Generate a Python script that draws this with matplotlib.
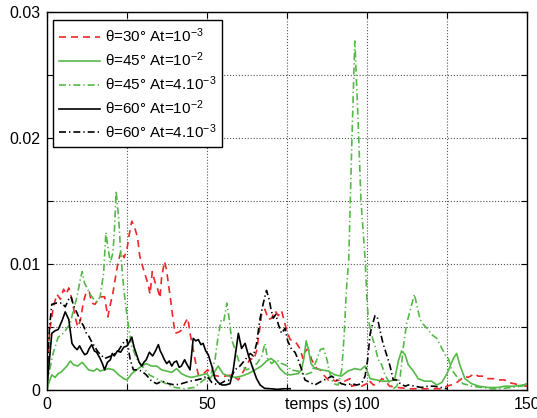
import matplotlib as mpl
mpl.use('Agg')
import matplotlib.pyplot as plt
import numpy as np

plt.rcParams['font.family'] = ['Liberation Sans', 'DejaVu Sans']
plt.rcParams['mathtext.fontset'] = 'custom'
plt.rcParams['mathtext.rm'] = 'Liberation Sans'
plt.rcParams['mathtext.it'] = 'Liberation Sans:italic'
plt.rcParams['mathtext.bf'] = 'Liberation Sans:bold'

# ---- données ----
t_r30 = [0, 1, 2, 3.1, 4.2, 5.2, 6, 6.8, 7.8, 8.8, 9.6, 10.4, 11.4, 12.3, 13.2, 14, 15, 16, 17, 18,
         19, 19.8, 20.6, 21.3, 22.2, 23.1, 24.1, 25, 25.6, 26.5, 27.5, 28.3, 29, 30, 31.1, 31.6, 32.2,
         32.9, 33.7, 34.6, 35.3, 35.8, 36.7, 37.3, 37.9, 38.6, 39.2, 40, 41.2, 42.3, 43.1, 44, 44.7,
         45.7, 46.5, 47.3, 48.9, 50.2, 51.5, 53.5, 55.6, 57.7, 59.8, 61.9, 63.5, 64.6, 65.5, 66.4,
         67.1, 68.1, 69.2, 70.2, 71.2, 72.3, 73.3, 74.4, 75.2, 76, 77, 78, 79, 80, 81, 81.7, 82.7,
         84.3, 85.4, 86.4, 87.9, 89, 90, 91.5, 93, 94.7, 95.2, 96.8, 98.3, 99.9, 100.4, 102, 103.5,
         104.6, 105.6, 107, 109.6, 113, 116, 119.4, 123, 125, 127.5, 128.6, 130.6, 131.6, 133.7,
         134.7, 136.4, 137.4, 139.5, 141, 143, 144, 146, 147.6, 150]
v_r30 = [0.002, 0.005, 0.0066, 0.0076, 0.0072, 0.008, 0.0076, 0.0081, 0.0072, 0.0058, 0.005, 0.0055,
         0.007, 0.0078, 0.0078, 0.0069, 0.0068, 0.0072, 0.0074, 0.0074, 0.0058, 0.0068, 0.0077, 0.0088,
         0.0101, 0.011, 0.0105, 0.0112, 0.0122, 0.0134, 0.0128, 0.0121, 0.0106, 0.0097, 0.0088, 0.0084,
         0.0076, 0.0094, 0.0086, 0.008, 0.0073, 0.0089, 0.0102, 0.0096, 0.0085, 0.0072, 0.006, 0.0045,
         0.0046, 0.0048, 0.0053, 0.0057, 0.0045, 0.0032, 0.0021, 0.0012, 0.0013, 0.0016, 0.0012,
         0.0011, 0.0011, 0.0012, 0.0008, 0.0017, 0.0025, 0.0024, 0.0031, 0.0047, 0.0061, 0.0064,
         0.0056, 0.0057, 0.0063, 0.0059, 0.0063, 0.0052, 0.0045, 0.004, 0.0039, 0.0037, 0.0033,
         0.0025, 0.0032, 0.0032, 0.0024, 0.0017, 0.0016, 0.0012, 0.0008, 0.0009, 0.0007, 0.0008,
         0.0007, 0.0009, 0.0003, 0.0004, 0.0003, 0.0005, 0.0008, 0.0004, 0.0005, 0.0009, 0.0008,
         0.0003, 0.0002, 0.0001, 0.0001, 0.0001, 0.0001, 0.0003, 0.0005, 0.0007, 0.0011, 0.001,
         0.0013, 0.0011, 0.0011, 0.0009, 0.0009, 0.0008, 0.0008, 0.0006, 0.0005, 0.0004, 0.0003]

t_g45a = [0, 0.5, 1.5, 2.5, 3.5, 4.3, 5.1, 6.2, 7.3, 8.3, 9.6, 11, 12, 13, 14.6, 15.6, 16.6, 18, 19.2,
          20.8, 22.4, 24, 25, 26.5, 28, 29.6, 31, 32.7, 34.3, 35.8, 37.4, 39, 40.5, 42, 43.6, 45.2,
          46.8, 48.4, 50, 51, 52.5, 53.5, 55, 56.7, 58.8, 60.8, 62.9, 65, 67, 68.6, 70, 71.5, 72.8,
          74.4, 76, 78.5, 79.5, 80.2, 81, 81.7, 82.5, 83.7, 85.8, 87.9, 90, 92, 94, 96.2, 98, 99.4,
          101, 103, 105, 107, 108.6, 109.8, 110.8, 111.9, 112.9, 114.5, 116, 118, 120.2, 121.8, 123.4,
          125, 126, 127, 128, 129, 130.6, 132.7, 135, 137.9, 141, 143, 146, 148.9, 150]
v_g45a = [0.0, 0.0005, 0.0012, 0.001, 0.0013, 0.0014, 0.0016, 0.0019, 0.0023, 0.002, 0.0019, 0.0022,
          0.0019, 0.0016, 0.0015, 0.0017, 0.0015, 0.0016, 0.0017, 0.0016, 0.0012, 0.0009, 0.0008,
          0.0013, 0.0016, 0.0019, 0.0021, 0.0019, 0.0019, 0.0016, 0.0015, 0.0014, 0.0017, 0.0013,
          0.0011, 0.001, 0.0011, 0.0012, 0.0013, 0.0009, 0.0015, 0.0019, 0.0013, 0.0011, 0.001, 0.0011,
          0.0013, 0.0016, 0.0019, 0.0023, 0.0025, 0.0022, 0.0017, 0.0013, 0.0012, 0.0013, 0.0016,
          0.0024, 0.0039, 0.0032, 0.0021, 0.0017, 0.0016, 0.0015, 0.0012, 0.0011, 0.0015, 0.0017,
          0.0016, 0.0019, 0.0009, 0.0008, 0.0007, 0.0007, 0.0008, 0.0023, 0.0031, 0.0028, 0.002,
          0.0015, 0.0009, 0.0007, 0.0007, 0.0004, 0.0006, 0.0013, 0.0019, 0.0025, 0.0029, 0.002,
          0.0009, 0.0005, 0.0003, 0.0002, 0.0002, 0.0003, 0.0003, 0.0004, 0.0005]

t_g45b = [0, 1, 2, 3.5, 4.7, 5.7, 7.3, 8.3, 9.4, 10.4, 11, 11.7, 12.5, 13.5, 14.6, 15.6, 16.6, 17.7,
          18.4, 19, 19.8, 20.6, 21.1, 21.6, 22.4, 23.1, 24, 25, 25.8, 26.5, 28, 30, 32, 35, 38, 40,
          43, 46, 48, 50, 51.3, 52.5, 53.5, 54.4, 55.2, 56.2, 56.9, 57.7, 58.8, 59.8, 60.8, 62.4,
          64, 65.6, 67.1, 68.1, 68.9, 70.2, 71.7, 73.3, 75.4, 76, 78.5, 80.6, 82.7, 84.3, 85.4, 86.4,
          87.5, 88.5, 89.5, 91, 92.1, 92.9, 93.5, 94.3, 95.3, 96.2, 97.2, 98.1, 99.4, 100, 100.4,
          101.5, 102.5, 103.5, 104.6, 105.6, 107.2, 108.2, 109.3, 110.4, 111.4, 112.4, 113.5, 114.8,
          115.6, 116.6, 117.6, 119.2, 120.2, 121.8, 122.8, 124.4, 125.4, 126.5, 128.5, 130, 131.5,
          132.7, 136, 139, 142, 145, 148, 150]
v_g45b = [0.0005, 0.0018, 0.003, 0.0042, 0.0044, 0.0047, 0.0053, 0.0064, 0.0074, 0.0088, 0.0094,
          0.0085, 0.0081, 0.0076, 0.0072, 0.007, 0.0074, 0.0093, 0.0125, 0.0114, 0.0101, 0.0109,
          0.0128, 0.0158, 0.0136, 0.0106, 0.008, 0.0059, 0.0045, 0.0035, 0.0025, 0.0018, 0.0012,
          0.0008, 0.0004, 0.0002, 0.0001, 0.0002, 0.0006, 0.001, 0.0013, 0.0024, 0.0043, 0.0055,
          0.0054, 0.0069, 0.0057, 0.004, 0.0032, 0.0024, 0.0019, 0.0016, 0.0018, 0.0021, 0.0027,
          0.0037, 0.0025, 0.0021, 0.0024, 0.0021, 0.0019, 0.0016, 0.0015, 0.0012, 0.0014, 0.0024,
          0.0032, 0.0033, 0.0024, 0.0012, 0.0005, 0.0004, 0.0016, 0.0045, 0.0077, 0.0104, 0.0200,
          0.0277, 0.0215, 0.0151, 0.0104, 0.0072, 0.0056, 0.0043, 0.0035, 0.0024, 0.002, 0.0012,
          0.0005, 0.0001, 0.0003, 0.0011, 0.0035, 0.0053, 0.0063, 0.0076, 0.0067, 0.0056, 0.0052,
          0.0048, 0.0044, 0.0041, 0.0036, 0.0028, 0.0025, 0.0016, 0.0009, 0.0005, 0.0004, 0.0003,
          0.0002, 0.0001, 0.0001, 0.0002, 0.0003, 0.0004]

t_k60a = [0, 0.8, 1.5, 2.5, 3.5, 4.7, 5.7, 6.8, 7.8, 8.6, 9.4, 10.2, 11, 11.8, 12.5, 13.2, 14, 14.8,
          15.5, 16.6, 17.3, 18, 18.9, 19.8, 20.4, 21, 22, 23, 24, 25, 25.7, 26.5, 27.2, 28, 28.8,
          29.6, 30.3, 31, 32, 33, 33.9, 34.8, 35.4, 36, 36.7, 37.4, 38.2, 39, 39.7, 40.5, 41.3, 42,
          43, 43.8, 44.7, 45.7, 46.5, 47.3, 48.1, 48.8, 49.6, 50.4, 51.5, 52.5, 53.5, 54.6, 55.8,
          57.2, 58.2, 59.8, 60.8, 61.9, 63, 64.5, 65.5, 66.6, 68, 70, 72, 74, 76]
v_k60a = [0.0003, 0.0025, 0.0045, 0.0047, 0.0048, 0.0055, 0.0062, 0.0056, 0.0037, 0.0034, 0.0032,
          0.0035, 0.0031, 0.0028, 0.0029, 0.0033, 0.0036, 0.0031, 0.003, 0.0025, 0.0021, 0.0016,
          0.0022, 0.0024, 0.0029, 0.0027, 0.0031, 0.003, 0.0034, 0.0035, 0.0038, 0.0042, 0.0034,
          0.0028, 0.0022, 0.0019, 0.0022, 0.0024, 0.003, 0.0027, 0.0031, 0.0036, 0.0031, 0.0028,
          0.0024, 0.0021, 0.0023, 0.0019, 0.0022, 0.0023, 0.0018, 0.0019, 0.0024, 0.002, 0.0016,
          0.0041, 0.0039, 0.004, 0.0036, 0.0037, 0.0031, 0.0028, 0.0019, 0.0009, 0.0006, 0.0004,
          0.0004, 0.0005, 0.0016, 0.0045, 0.0033, 0.0037, 0.0027, 0.0016, 0.0009, 0.0004, 0.00013,
          0.0001, 0.00005, 0.0001, 0.0001]

t_k60b = [0, 0.8, 1.5, 3, 4.7, 5.7, 6.8, 7.5, 8.3, 9.4, 10.4, 11.4, 12.3, 13, 14, 16, 18, 20, 22, 24,
          25, 26, 27, 28.5, 29.6, 31, 32.7, 34.3, 36, 38, 40, 42, 44.7, 46.8, 48.4, 50, 51.5, 53.5,
          55.5, 57.2, 58.7, 60.3, 61.9, 63.5, 64.5, 65.5, 66.6, 67.6, 68.6, 69.4, 70, 70.7, 71.5,
          72.3, 73.3, 74.4, 75.2, 76.5, 77.5, 78.5, 79.6, 80.6, 82.2, 83.7, 85.8, 87.5, 89, 90.5,
          92, 93.5, 95.2, 96.8, 98.3, 99.4, 100.2, 101, 101.5, 102.5, 103.2, 104, 105, 106, 107.2,
          108.2, 109.3, 110.4, 112, 112.9, 115, 117, 119, 121, 123, 125]
v_k60b = [0.001, 0.005, 0.0068, 0.0069, 0.0069, 0.0066, 0.0072, 0.0074, 0.0067, 0.0061, 0.0055,
          0.0051, 0.0045, 0.0043, 0.0038, 0.003, 0.0025, 0.0027, 0.003, 0.0038, 0.004, 0.0024,
          0.0016, 0.0016, 0.0015, 0.0012, 0.0007, 0.0005, 0.0007, 0.0005, 0.0004, 0.0005, 0.0007,
          0.0008, 0.0009, 0.0011, 0.0006, 0.0004, 0.0007, 0.0008, 0.0016, 0.0019, 0.0024, 0.0029,
          0.0027, 0.0037, 0.0057, 0.0069, 0.0079, 0.0072, 0.0064, 0.0057, 0.006, 0.0052, 0.0045,
          0.0049, 0.0039, 0.0032, 0.003, 0.0024, 0.0016, 0.0008, 0.0006, 0.0004, 0.0007, 0.0009,
          0.0011, 0.0008, 0.0005, 0.0004, 0.0005, 0.0004, 0.0005, 0.0011, 0.0024, 0.0045, 0.005,
          0.0059, 0.0058, 0.0048, 0.0037, 0.0029, 0.0019, 0.0008, 0.0008, 0.0005, 0.0003, 0.0004,
          0.0003, 0.0002, 0.0003, 0.0003, 0.0002, 0.0001]

labels = [r'θ=30° At=10$^{-3}$', r'θ=45° At=10$^{-2}$', r'θ=45° At=4.10$^{-3}$',
          r'θ=60° At=10$^{-2}$', r'θ=60° At=4.10$^{-3}$']

RED = '#f0262a'
GREEN = '#55b947'
LW = 1.2
DASH = (4.2, 3.0)
DASHDOT = (4.2, 1.8, 0.8, 1.8)

fig = plt.figure(figsize=(5.37, 4.18), dpi=100)
ax = fig.add_axes([47 / 537, 28 / 418, 480 / 537, 378 / 418])

ax.plot(t_r30, v_r30, color=RED, lw=LW, dashes=DASH, label=labels[0])
ax.plot(t_g45a, v_g45a, color=GREEN, lw=LW, ls='-', label=labels[1])
ax.plot(t_g45b, v_g45b, color=GREEN, lw=LW, dashes=DASHDOT, label=labels[2])
ax.plot(t_k60a, v_k60a, color='black', lw=LW, ls='-', label=labels[3])
ax.plot(t_k60b, v_k60b, color='black', lw=LW, dashes=DASHDOT, label=labels[4])

ax.set_xlim(0, 150)
ax.set_ylim(0, 0.03)
ax.set_xticks(np.arange(0, 151, 25))
ax.set_xticklabels(['0', '', '50', '', '100', '', '150'])
ax.set_yticks(np.arange(0, 0.0301, 0.005))
ax.set_yticklabels(['0', '', '0.01', '', '0.02', '', '0.03'])
ax.tick_params(direction='in', top=True, right=True, length=4, width=0.8,
               labelsize=11.5, pad=5)
ax.grid(True, ls=':', color='#555555', lw=0.8)
for s in ax.spines.values():
    s.set_linewidth(1.0)

ax.annotate('temps (s)', xy=(84.7, 0), xycoords=('data', 'axes fraction'),
            xytext=(0, -5), textcoords='offset points', ha='center', va='top',
            fontsize=11.5)

leg = ax.legend(loc='upper left', bbox_to_anchor=(0.012, 0.978), fontsize=11,
                frameon=True, fancybox=False, framealpha=1, edgecolor='black',
                handlelength=2.7, handletextpad=0.3, labelspacing=0.35,
                borderpad=0.4, borderaxespad=0)
leg.get_frame().set_linewidth(1.0)

fig.savefig('out.png', dpi=100)
